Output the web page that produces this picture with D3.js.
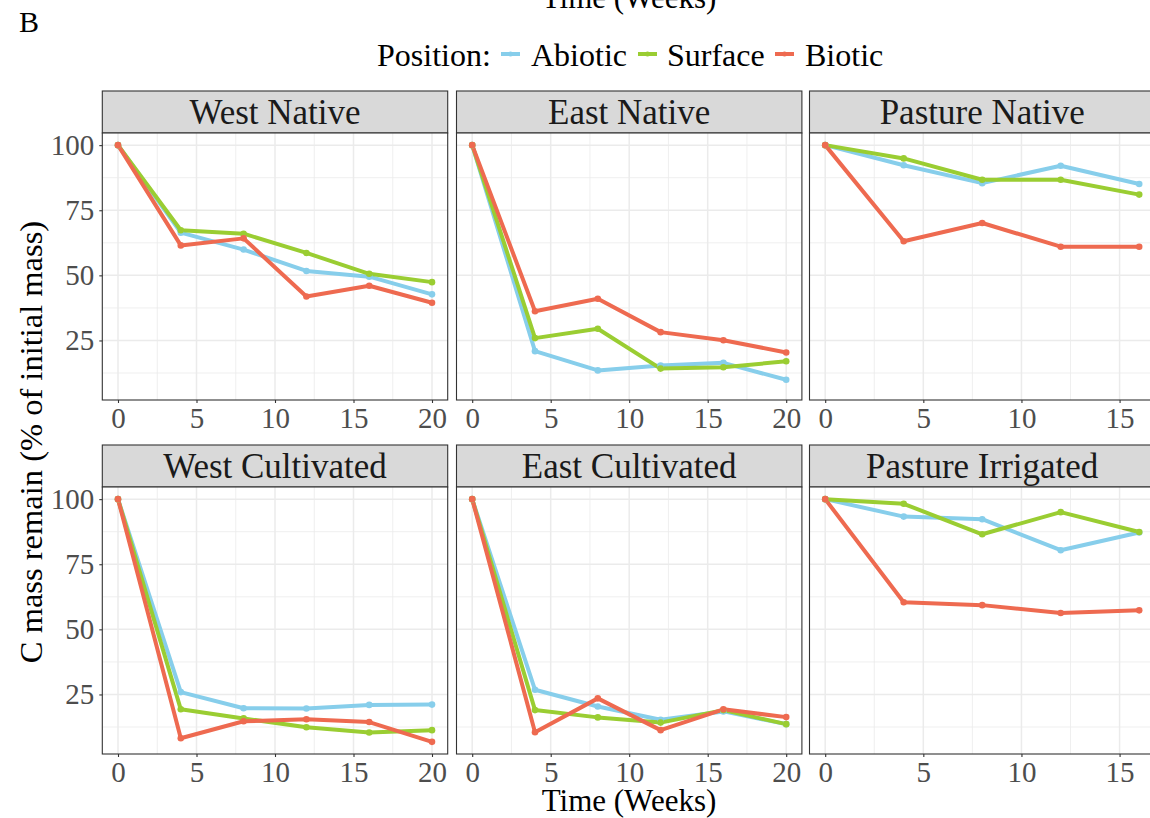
<!DOCTYPE html>
<html>
<head>
<meta charset="utf-8">
<script src="https://cdn.jsdelivr.net/npm/d3@7"></script>
<style>
  html, body { margin: 0; padding: 0; background: #fff; }
  svg { display: block; }
  text { font-family: "Liberation Serif", "Times New Roman", serif; }
</style>
</head>
<body>
<svg id="chart" width="1150" height="818"></svg>
<script>
// ---------------- data ----------------
const positions = ["Abiotic", "Surface", "Biotic"];
const colors = ["#87CEEB", "#9ACD32", "#EE6A50"];
const facets = ["West Native", "East Native", "Pasture Native",
                "West Cultivated", "East Cultivated", "Pasture Irrigated"];
const weeksLong = [0, 4, 8, 12, 16, 20];
const weeksShort = [0, 4, 8, 12, 16];

// values per facet: [Abiotic, Surface, Biotic]
const westNative      = [[100, 66.4, 59.9, 51.7, 49.5, 42.7],
                         [100, 67.3, 66.0, 58.6, 50.6, 47.4],
                         [100, 61.5, 64.2, 41.9, 46.0, 39.5]];
const eastNative      = [[100, 20.9, 13.5, 15.4, 16.4, 9.9],
                         [100, 25.9, 29.5, 14.2, 14.7, 17.0],
                         [100, 36.2, 41.0, 28.2, 25.1, 20.4]];
const pastureNative   = [[100, 92.3, 85.4, 92.1, 85.1],
                         [100, 94.9, 86.7, 86.7, 81.0],
                         [100, 63.1, 70.1, 61.0, 61.0]];
const westCultivated  = [[100, 25.9, 19.7, 19.6, 21.0, 21.1],
                         [100, 19.3, 15.8, 12.4, 10.4, 11.3],
                         [100, 8.2, 14.7, 15.5, 14.4, 6.8]];
const eastCultivated  = [[100, 26.8, 20.4, 15.3, 18.5, 13.6],
                         [100, 19.0, 16.2, 14.2, 19.0, 13.6],
                         [100, 10.5, 23.5, 11.3, 19.3, 16.3]];
const pastureIrrigated= [[100, 93.3, 92.3, 80.4, 87.2],
                         [100, 98.2, 86.5, 95.0, 87.4],
                         [100, 60.4, 59.3, 56.3, 57.3]];

const facetValues = [westNative, eastNative, pastureNative,
                     westCultivated, eastCultivated, pastureIrrigated];
const facetWeeks = [weeksLong, weeksLong, weeksShort, weeksLong, weeksLong, weeksShort];

const yTicks = [25, 50, 75, 100];
const yMinor = [12.5, 37.5, 62.5, 87.5];
const xTicksLong = [0, 5, 10, 15, 20];
const xTicksShort = [0, 5, 10, 15];

const labelTag = "B";
const xTitle = "Time (Weeks)";
const yTitle = "C mass remain (% of initial mass)";
const legendTitle = "Position:";

// ---------------- layout ----------------
const svg = d3.select("#chart");
const colLeft = [102.3, 456.5, 809.5];
const panelW = 345.4;
const rowStripTop = [91, 445];
const stripH = 42;
const plotH = 267;

// shared y scale domain with 5% expansion
const allVals = facetValues.flat(2);
const yMinV = d3.min(allVals), yMaxV = d3.max(allVals);
const yPad = (yMaxV - yMinV) * 0.05;

const tickColor = "#4D4D4D";

facets.forEach((name, i) => {
  const col = i % 3, row = Math.floor(i / 3);
  const x0 = colLeft[col];
  const stripTop = rowStripTop[row];
  const plotTop = stripTop + stripH;
  const weeks = facetWeeks[i];
  const xMax = d3.max(weeks);
  const xPad = xMax * 0.05;
  const x = d3.scaleLinear().domain([-xPad, xMax + xPad]).range([x0, x0 + panelW]);
  const y = d3.scaleLinear().domain([yMinV - yPad, yMaxV + yPad]).range([plotTop + plotH, plotTop]);
  const xt = xMax > 16 ? xTicksLong : xTicksShort;
  const xMinorT = d3.range(2.5, xMax + xPad, 5);

  const g = svg.append("g");
  // strip
  g.append("rect").attr("x", x0).attr("y", stripTop).attr("width", panelW).attr("height", stripH)
    .attr("fill", "#D9D9D9").attr("stroke", "#333333").attr("stroke-width", 1.1);
  g.append("text").attr("x", x0 + panelW / 2).attr("y", stripTop + 32.5)
    .attr("text-anchor", "middle").attr("font-size", 35).attr("fill", "#1A1A1A").text(name);

  // panel background
  g.append("rect").attr("x", x0).attr("y", plotTop).attr("width", panelW).attr("height", plotH)
    .attr("fill", "#fff");
  // minor grid
  yMinor.forEach(v => g.append("line").attr("x1", x0).attr("x2", x0 + panelW)
    .attr("y1", y(v)).attr("y2", y(v)).attr("stroke", "#EBEBEB").attr("stroke-width", 0.8));
  xMinorT.forEach(v => g.append("line").attr("y1", plotTop).attr("y2", plotTop + plotH)
    .attr("x1", x(v)).attr("x2", x(v)).attr("stroke", "#EBEBEB").attr("stroke-width", 0.8));
  // major grid
  yTicks.forEach(v => g.append("line").attr("x1", x0).attr("x2", x0 + panelW)
    .attr("y1", y(v)).attr("y2", y(v)).attr("stroke", "#EBEBEB").attr("stroke-width", 1.5));
  xt.forEach(v => g.append("line").attr("y1", plotTop).attr("y2", plotTop + plotH)
    .attr("x1", x(v)).attr("x2", x(v)).attr("stroke", "#EBEBEB").attr("stroke-width", 1.5));

  // lines & points
  const line = d3.line().x((d, k) => x(weeks[k])).y(d => y(d));
  facetValues[i].forEach((vals, s) => {
    g.append("path").datum(vals).attr("d", line).attr("fill", "none")
      .attr("stroke", colors[s]).attr("stroke-width", 4).attr("stroke-linejoin", "round");
  });
  facetValues[i].forEach((vals, s) => {
    g.selectAll(null).data(vals).enter().append("circle")
      .attr("cx", (d, k) => x(weeks[k])).attr("cy", d => y(d)).attr("r", 3.3)
      .attr("fill", colors[s]);
  });

  // border
  g.append("rect").attr("x", x0).attr("y", plotTop).attr("width", panelW).attr("height", plotH)
    .attr("fill", "none").attr("stroke", "#333333").attr("stroke-width", 1.1);

  // x axis (every panel)
  const xAxis = d3.axisBottom(x).tickValues(xt).tickSize(3).tickPadding(4).tickFormat(d3.format("d"));
  const ax = g.append("g").attr("transform", `translate(0,${plotTop + plotH})`).call(xAxis);
  ax.select(".domain").remove();
  ax.selectAll(".tick line").attr("stroke", "#333333").attr("stroke-width", 1.1);
  ax.selectAll(".tick text").attr("font-size", 29).attr("fill", tickColor)
    .attr("font-family", "Liberation Serif").attr("dy", "0.71em");

  // y axis (left column only)
  if (col === 0) {
    const yAxis = d3.axisLeft(y).tickValues(yTicks).tickSize(3).tickPadding(5).tickFormat(d3.format("d"));
    const ay = g.append("g").attr("transform", `translate(${x0},0)`).call(yAxis);
    ay.select(".domain").remove();
    ay.selectAll(".tick line").attr("stroke", "#333333").attr("stroke-width", 1.1);
    ay.selectAll(".tick text").attr("font-size", 29).attr("fill", tickColor)
      .attr("font-family", "Liberation Serif");
  }
});

// titles
svg.append("text").attr("x", 629).attr("y", 811).attr("text-anchor", "middle")
  .attr("font-size", 31).attr("fill", "#000").text(xTitle);
svg.append("text").attr("x", 629).attr("y", 8).attr("text-anchor", "middle")
  .attr("font-size", 31).attr("fill", "#000").text(xTitle);
svg.append("text").attr("transform", `translate(42,442) rotate(-90)`)
  .attr("text-anchor", "middle").attr("font-size", 32.5).attr("fill", "#000").text(yTitle);
svg.append("text").attr("x", 19).attr("y", 32).attr("font-size", 30).attr("fill", "#000").text(labelTag);

// legend
const lg = svg.append("g");
lg.append("text").attr("x", 377).attr("y", 66).attr("font-size", 32).attr("fill", "#000").text(legendTitle);
const keyX = [501, 638, 775];
const keyTextX = [531, 667, 805];
positions.forEach((p, s) => {
  lg.append("line").attr("x1", keyX[s]).attr("x2", keyX[s] + 19).attr("y1", 54).attr("y2", 54)
    .attr("stroke", colors[s]).attr("stroke-width", 4);
  lg.append("circle").attr("cx", keyX[s] + 9.5).attr("cy", 54).attr("r", 2.5).attr("fill", colors[s]);
  lg.append("text").attr("x", keyTextX[s]).attr("y", 66).attr("font-size", 32).attr("fill", "#000").text(p);
});
</script>
</body>
</html>
